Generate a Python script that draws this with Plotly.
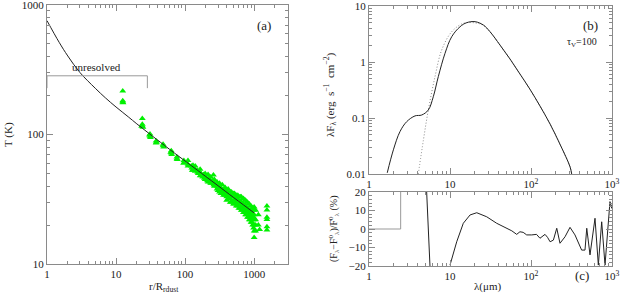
import plotly.graph_objects as go

# ---------------- Panel (a): temperature profile ----------------
r_curve = [1, 1.5, 2, 3, 5, 7, 10, 15, 20, 30, 50, 70, 100, 150, 200, 300, 500, 700, 1000]
T_curve = [757, 515, 404, 301, 227.5, 192, 163, 137, 120.8, 101.9, 82.6, 71.9, 62.4, 53.1, 47.3, 40.2, 32.7, 28.6, 24.8]

r_pts = [12.5, 12.5, 12.5, 12.6,
         24, 24, 24, 24.5, 23.5,
         31, 31, 31.5, 30.5,
         38, 38, 38.5,
         48, 48, 49,
         63, 63, 64, 62,
         76, 76, 77,
         96, 97, 95,
         110, 110, 110,
         123, 125, 127,
         130, 130, 130,
         140, 140, 140,
         150, 152, 155, 160,
         165, 165, 165,
         170, 175, 180, 185, 190,
         195, 195, 195,
         200, 205, 210, 220, 230, 240, 250, 257, 260, 270, 280,
         215, 215, 215, 235, 235, 235, 265, 265, 265, 290, 290, 290,
         300, 300, 300, 300,
         315, 315, 315,
         330, 330, 330,
         345, 345, 345,
         360, 360, 360,
         380, 380, 380,
         400, 400, 400, 400,
         420, 420, 420,
         450, 450, 450, 450,
         470, 470, 470,
         500, 500, 500, 500,
         520, 520, 520,
         550, 550, 550, 550,
         580, 580, 580,
         600, 600, 600, 600,
         630, 630, 630,
         650, 650, 650, 650,
         680, 680, 680,
         700, 700, 700, 700,
         730, 730, 730,
         750, 750, 750, 750,
         780, 780, 780,
         800, 800, 800, 800,
         830, 830, 830,
         850, 850, 850, 850,
         880, 880, 880,
         900, 900, 900, 900,
         930, 930, 930,
         950, 950, 950, 950,
         980, 980, 980,
         1000, 1000, 1000, 1000, 1000, 1000,
         1050, 1050, 1050, 1050,
         1150, 1150, 1200,
         1530, 1530, 1530, 1530, 1530, 1530]
T_pts = [217, 182, 178, 176,
         133, 120, 117, 114, 116,
         101, 97, 95, 99,
         89, 86, 87,
         84, 82, 80,
         75, 72, 70, 73,
         67, 65, 64,
         63, 61, 60,
         63, 59, 57,
         57, 55, 53,
         58, 55, 53,
         57, 54, 52,
         53, 51, 50, 52,
         54, 50, 48,
         50, 48, 47, 49, 46,
         50, 47, 45,
         47, 45, 44, 46, 43, 42, 44, 48.6, 41, 40, 41,
         49, 45, 43, 47, 44, 42, 45, 42, 40, 43, 40, 38,
         41, 39, 37, 40,
         42, 39, 36,
         39, 37, 35,
         41, 37, 35,
         38, 36, 34,
         39, 36, 34,
         37, 35, 33, 31,
         38, 34, 32,
         36, 34, 32, 30,
         36, 33, 30,
         35, 33, 31, 29,
         35, 31, 29,
         34, 32, 30, 28,
         34, 30, 28,
         33, 31, 29, 27,
         33, 29, 27,
         33, 30, 28, 26,
         32, 28, 26,
         32, 29, 27, 25,
         31, 27, 25,
         31, 28, 26, 24,
         30, 26, 24,
         30, 27, 25, 23,
         29, 26, 23,
         29, 26, 24, 22,
         28, 25, 22,
         28, 25, 23, 21,
         27, 24, 21,
         27, 24, 22, 20,
         26, 23, 19,
         27.5, 24, 22, 20, 18, 16,
         26, 22, 20, 18,
         24, 20, 18.5,
         28.1, 26.1, 23, 22.1, 19.4, 18.3]

unres_x = [1, 1, 28.4, 28.4]
unres_y = [228, 284, 284, 228]

# ---------------- Panel (b): SED ----------------
lam_solid = [1.68, 2.0, 2.41, 2.92, 3.7, 4.47, 5.4, 6.22, 7.17, 8.68, 10.5, 13.3, 16.1, 20.4,
             25.8, 31.2, 41.4, 55.1, 73.1, 97.2, 129, 172, 228, 303, 318]
F_solid = [0.0105, 0.027, 0.057, 0.086, 0.109, 0.113, 0.139, 0.24, 0.547, 1.43, 2.83, 4.26, 5.04, 5.25,
           4.58, 3.47, 2.01, 1.13, 0.61, 0.325, 0.164, 0.078, 0.034, 0.0135, 0.01]
lam_dot = [4.06, 4.69, 5.4, 6.53, 7.9, 10.5, 14.6, 20.4, 25.8, 31.2, 41.4, 55.1, 73.1, 97.2, 129, 172, 228, 303, 318]
F_dot = [0.01, 0.040, 0.139, 0.547, 1.64, 3.47, 4.9, 5.0, 4.5, 3.47, 2.01, 1.13, 0.61, 0.325, 0.164, 0.078, 0.034, 0.0135, 0.01]

# ---------------- Panel (c): relative difference ----------------
lam_step = [1, 2.46, 2.46]
d_step = [0, 0, 25]
lam_drop = [5.15, 5.66]
d_drop = [20, -20]
lam_diff = [10, 12.1, 14.6, 17.7, 21.4, 28.4, 37.7, 50, 58, 66.6, 73, 80, 88.5, 102, 117, 129, 149, 160,
            172, 189, 208, 228, 263, 303, 349, 422, 464, 488, 535, 617, 678, 746, 820, 944, 993, 1000]
d_diff = [-19.5, -6.9, 3.1, 7.6, 8.8, 6.6, 3.1, 0.4, -1.0, -2.9, -1.5, -1.8, -3.2, -3.2, -2.9, -5, -2.9, -4.5,
          -6.9, -6, 0.4, -7.7, -4.2, 0.9, -3.2, -11.4, -11.4, 0.4, -14, 5.8, -19.5, 3.9, -19.5, 14.8, 11.2, 13]

FONT = "Liberation Serif"
AX = "#8a8a8a"

fig = go.Figure()

# panel a
fig.add_trace(go.Scatter(x=r_pts, y=T_pts, mode="markers", xaxis="x", yaxis="y",
                         marker=dict(symbol="triangle-up", size=6, color="#00f000", line=dict(width=0)),
                         showlegend=False))
fig.add_trace(go.Scatter(x=r_curve, y=T_curve, mode="lines", xaxis="x", yaxis="y",
                         line=dict(color="#222222", width=1, shape="spline"), showlegend=False))
fig.add_trace(go.Scatter(x=unres_x, y=unres_y, mode="lines", xaxis="x", yaxis="y",
                         line=dict(color="#999999", width=1), showlegend=False))

# panel b
fig.add_trace(go.Scatter(x=lam_dot, y=F_dot, mode="lines", xaxis="x2", yaxis="y2",
                         line=dict(color="#888888", width=1, dash="1px,2px", shape="spline"), showlegend=False))
fig.add_trace(go.Scatter(x=lam_solid, y=F_solid, mode="lines", xaxis="x2", yaxis="y2",
                         line=dict(color="#222222", width=1, shape="spline"), showlegend=False))

# panel c
fig.add_trace(go.Scatter(x=lam_step, y=d_step, mode="lines", xaxis="x3", yaxis="y3",
                         line=dict(color="#999999", width=1), showlegend=False))
fig.add_trace(go.Scatter(x=lam_drop, y=d_drop, mode="lines", xaxis="x3", yaxis="y3",
                         line=dict(color="#222222", width=1), showlegend=False))
fig.add_trace(go.Scatter(x=lam_diff, y=d_diff, mode="lines", xaxis="x3", yaxis="y3",
                         line=dict(color="#222222", width=1), showlegend=False))

common = dict(showline=True, linecolor=AX, linewidth=1, mirror="allticks", ticks="inside",
              tickcolor=AX, ticklen=6, showgrid=False, zeroline=False, automargin=False,
              ticklabeloverflow="allow",
              tickfont=dict(family=FONT, size=11, color="#222"))

def logminor(vals):
    return dict(tickvals=vals, ticks="inside", ticklen=3, tickcolor=AX, showgrid=False)

mx_a = [2, 3, 4, 5, 6, 7, 8, 9, 20, 30, 40, 50, 60, 70, 80, 90, 200, 300, 400, 500, 600, 700, 800, 900, 2000, 3000]
my_a = [20, 30, 40, 50, 60, 70, 80, 90, 200, 300, 400, 500, 600, 700, 800, 900]
mx_b = [2, 3, 4, 5, 6, 7, 8, 9, 20, 30, 40, 50, 60, 70, 80, 90, 200, 300, 400, 500, 600, 700, 800, 900]
my_b = [0.02, 0.03, 0.04, 0.05, 0.06, 0.07, 0.08, 0.09, 0.2, 0.3, 0.4, 0.5, 0.6, 0.7, 0.8, 0.9,
        2, 3, 4, 5, 6, 7, 8, 9]

lam_ticktext = ["1", "10", "10<sup>2</sup>", "10<sup>3</sup>"]

fig.update_layout(
    width=621, height=293, autosize=False,
    margin=dict(l=0, r=0, t=0, b=0),
    paper_bgcolor="white", plot_bgcolor="white",
    xaxis=dict(type="log", range=[0, 3.49], domain=[47/621, 288/621], anchor="y",
               tickvals=[1, 10, 100, 1000], ticktext=["1", "10", "100", "1000"],
               minor=logminor(mx_a), **common),
    yaxis=dict(type="log", range=[1, 3], domain=[1-264/293, 1-5/293], anchor="x",
               tickvals=[10, 100, 1000], ticktext=["10", "100", "1000"],
               minor=logminor(my_a), **common),
    xaxis2=dict(type="log", range=[0, 3], domain=[369/621, 612/621], anchor="y2",
                tickvals=[1, 10, 100, 1000], ticktext=lam_ticktext,
                minor=logminor(mx_b), **common),
    yaxis2=dict(type="log", range=[-2, 1], domain=[1-174/293, 1-6/293], anchor="x2",
                tickvals=[0.01, 0.1, 1, 10], ticktext=["0.01", "0.1", "1", "10"],
                minor=logminor(my_b), **common),
    xaxis3=dict(type="log", range=[0, 3], domain=[369/621, 612/621], anchor="y3",
                tickvals=[1, 10, 100, 1000], ticktext=lam_ticktext,
                minor=logminor(mx_b), **common),
    yaxis3=dict(range=[-20, 20], domain=[1-266/293, 1-192/293], anchor="x3",
                tickvals=[-20, -10, 0, 10, 20], ticktext=["\u221220", "\u221210", "0", "10", "20"],
                minor=dict(dtick=2, ticks="inside", ticklen=3, tickcolor=AX, showgrid=False),
                **common),
)

def ann(text, x, y, size=11, angle=0):
    fig.add_annotation(text=text, x=x, y=y, xref="paper", yref="paper", showarrow=False,
                       textangle=angle, xanchor="center", yanchor="middle",
                       font=dict(family=FONT, size=size, color="#222"))

ann("unresolved", 96.7/621, 1-66.7/293, 11)
ann("(a)", 264/621, 1-25/293, 13)
ann("(b)", 590/621, 1-25/293, 13)
ann("\u03c4<sub>V</sub>=100", 582/621, 1-43/293, 10)
ann("(c)", 582/621, 1-275/293, 13)
ann("\u03bb(\u03bcm)", 487/621, 1-286/293, 11)
ann("r/R<sub>rdust</sub>", 164/621, 1-287/293, 11)
ann("T (K)", 8/621, 1-135/293, 11, -90)
ann("\u03bbF<sub>\u03bb</sub> (erg  s<sup>\u22121</sup>  cm<sup>\u22122</sup>)", 330/621, 1-95/293, 11, -90)
ann("(F<sub>\u03bb</sub>\u2212F<sup>0</sup><sub>\u03bb</sub>)/F<sup>0</sup><sub>\u03bb</sub> (%)", 334/621, 1-228/293, 10, -90)

fig.write_html("out.html", config={"displayModeBar": False},
               post_script="document.body.style.margin='0';document.body.style.overflow='hidden';")
